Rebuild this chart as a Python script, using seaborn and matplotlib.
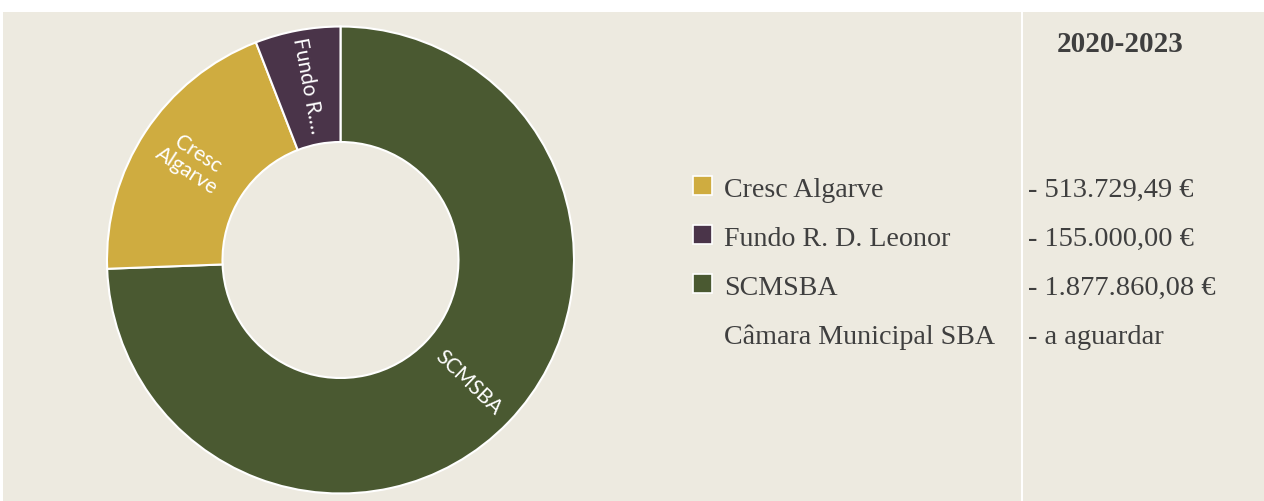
import matplotlib
matplotlib.use("Agg")
import matplotlib.pyplot as plt
from matplotlib.patches import Rectangle
import seaborn as sns
import numpy as np

# data
# slice shares (%) as measured from the drawn donut
slice_labels = ["SCMSBA", "Cresc\nAlgarve", "Fundo R.\u2026"]
slice_shares = [74.4, 19.7, 5.9]
slice_colors = ["#4a5931", "#cfac40", "#4a3449"]

legend_names = ["Cresc Algarve", "Fundo R. D. Leonor", "SCMSBA", "Câmara Municipal SBA"]
legend_colors = ["#cfac40", "#4a3449", "#4a5931", None]
legend_amounts = ["- 513.729,49 €", "- 155.000,00 €", "- 1.877.860,08 €", "- a aguardar"]
period = "2020-2023"

sns.set_style("white")
W, H = 1264, 501
BG = "#edeae0"
TXT = "#3f3f3f"

fig = plt.figure(figsize=(W / 100, H / 100), dpi=100, facecolor="white")


def fx(px):
    return px / W


def fy(py):
    return 1 - py / H


# beige panel + white divider
fig.patches.append(Rectangle((fx(3), 0), 1 - fx(3), fy(12), transform=fig.transFigure,
                             facecolor=BG, edgecolor="none", zorder=-2))
fig.patches.append(Rectangle((fx(1021), 0), fx(2), fy(12), transform=fig.transFigure,
                             facecolor="white", edgecolor="none", zorder=-1))

# donut
cx, cy, r = 340.5, 260, 233.5
ax = fig.add_axes([fx(cx - r), fy(cy + r), fx(2 * r), (2 * r) / H])
ax.set_facecolor("none")
ax.patch.set_alpha(0)
hole = 118 / r
wedges, _ = ax.pie(slice_shares, colors=slice_colors, startangle=90, counterclock=False,
                   radius=1, wedgeprops=dict(width=1 - hole, edgecolor="white", linewidth=1.5))
ax.set_xlim(-1.0, 1.0)
ax.set_ylim(-1.0, 1.0)
ax.set_aspect("equal")
ax.axis("off")

for w, lab in zip(wedges, slice_labels):
    mid = (w.theta1 + w.theta2) / 2
    rad = np.deg2rad(mid)
    rr = 0.76
    rot = mid if np.cos(rad) >= 0 else mid - 180
    rot = (rot + 180) % 360 - 180
    ax.text(rr * np.cos(rad), rr * np.sin(rad), lab, rotation=rot, rotation_mode="anchor",
            ha="center", va="center", multialignment="center", color="white",
            fontsize=15, family=["Lato", "DejaVu Sans"], linespacing=1.05)

# legend block
row_y = [197, 246, 295, 344]
for i, (name, col, amt) in enumerate(zip(legend_names, legend_colors, legend_amounts)):
    y = row_y[i]
    if col is not None:
        fig.patches.append(Rectangle((fx(693), fy(y - 2)), fx(19), 19 / H, transform=fig.transFigure,
                                     facecolor=col, edgecolor="white", linewidth=1.2, zorder=3))
    fig.text(fx(724), fy(y), name, ha="left", va="baseline", color=TXT,
             fontsize=20.2, family="Liberation Serif")
    fig.text(fx(1028), fy(y), amt, ha="left", va="baseline", color=TXT,
             fontsize=20.5, family="Liberation Serif")

fig.text(fx(1120), fy(52), period, ha="center", va="baseline", color=TXT,
         fontsize=21, fontweight="bold", family="Liberation Serif")

fig.savefig("out.png", dpi=100, facecolor=fig.get_facecolor())
